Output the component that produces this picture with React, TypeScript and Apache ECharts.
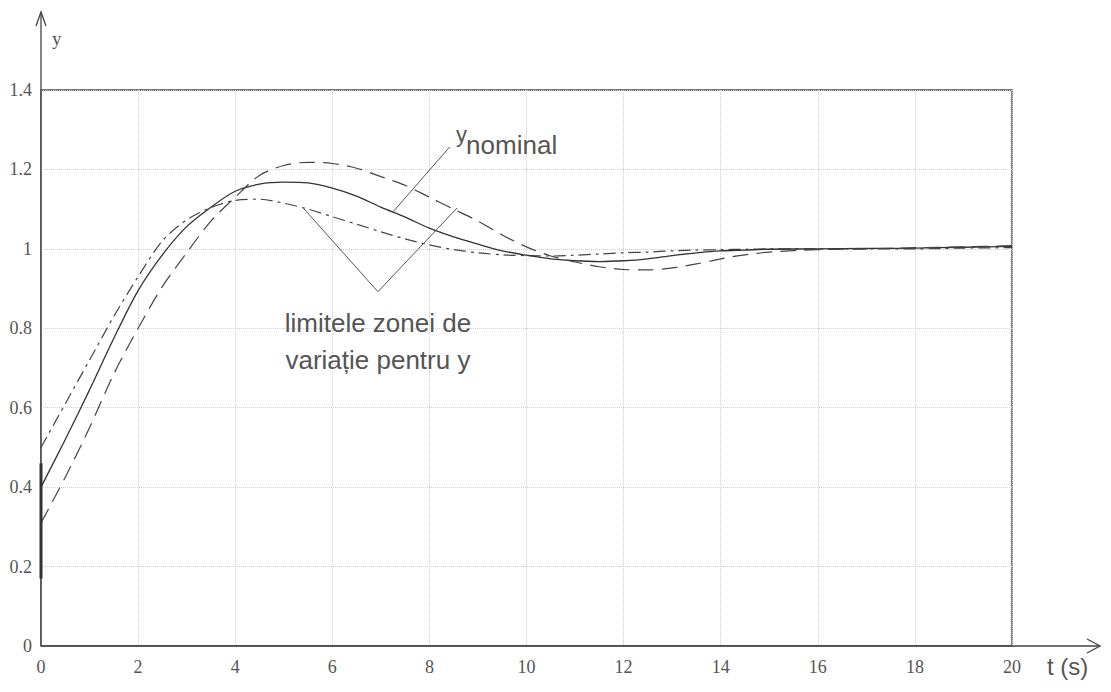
import React, { useEffect, useRef } from "react";
import * as echarts from "echarts";

const T = [0, 0.5, 1, 1.5, 2, 2.5, 3, 3.5, 4, 4.5, 5, 5.5, 6, 6.5, 7, 7.5, 8, 8.5, 9, 9.5, 10, 10.5, 11, 11.5, 12, 12.5, 13, 13.5, 14, 14.5, 15, 16, 17, 18, 19, 20];
const yUpper = [0.5, 0.61, 0.72, 0.83, 0.93, 1.02, 1.073, 1.104, 1.122, 1.125, 1.115, 1.1, 1.081, 1.062, 1.043, 1.025, 1.01, 0.998, 0.99, 0.985, 0.983, 0.982, 0.984, 0.987, 0.99, 0.992, 0.995, 0.997, 0.998, 0.999, 1.0, 1.0, 1.0, 1.0, 1.002, 1.003];
const yNominal = [0.4, 0.52, 0.645, 0.775, 0.895, 0.985, 1.056, 1.105, 1.145, 1.163, 1.168, 1.166, 1.153, 1.133, 1.105, 1.08, 1.052, 1.03, 1.012, 0.995, 0.984, 0.975, 0.97, 0.968, 0.97, 0.975, 0.983, 0.99, 0.995, 0.997, 0.999, 1.0, 1.001, 1.002, 1.004, 1.006];
const yLower = [0.31, 0.425, 0.55, 0.685, 0.8, 0.905, 0.99, 1.07, 1.13, 1.185, 1.21, 1.218, 1.215, 1.203, 1.182, 1.16, 1.13, 1.1, 1.07, 1.035, 1.005, 0.982, 0.967, 0.955, 0.948, 0.947, 0.952, 0.962, 0.975, 0.985, 0.992, 0.998, 1.0, 1.003, 1.005, 1.008];
const initialRange = [[0, 0.17], [0, 0.46]];

// annotation geometry in data coordinates
const nominalLeader = [[7.25, 1.093], [8.42, 1.257]];
const limitsV = [[5.4, 1.103], [6.94, 0.892], [8.57, 1.103]];
const nominalLabelPos = [8.55, 1.3];
const limitsLabelPos = [6.94, 0.86];
const limitsLabel = ["limitele zonei de", "variație pentru y"];

const X_TICKS = { min: 0, max: 20, interval: 2 };
const Y_TICKS = { min: 0, max: 1.4, interval: 0.2 };

const zip = (xs: number[], ys: number[]) => xs.map((x, i) => [x, ys[i]]);

export default function App() {
  const ref = useRef<HTMLDivElement>(null);
  useEffect(() => {
    if (!ref.current) return;
    const chart = echarts.init(ref.current, null, { renderer: "svg" });
    const lineColor = "#444";
    const tickFont = { fontFamily: "Liberation Serif", fontSize: 18, color: "#555" };
    chart.setOption({
      animation: false,
      backgroundColor: "#fff",
      grid: { left: 41, right: 99, top: 90, bottom: 46, show: true, borderColor: "#444", borderWidth: 1.3, backgroundColor: "transparent" },
      xAxis: {
        type: "value", ...X_TICKS,
        axisLine: { show: false },
        axisTick: { show: false },
        axisLabel: { ...tickFont, margin: 12 },
        splitLine: { show: true, lineStyle: { type: "dotted", color: "#cfcfcf", width: 1 } },
      },
      yAxis: {
        type: "value", ...Y_TICKS,
        axisLine: { show: false },
        axisTick: { show: false },
        axisLabel: { ...tickFont, margin: 9 },
        splitLine: { show: true, lineStyle: { type: "dotted", color: "#cfcfcf", width: 1 } },
      },
      series: [
        { name: "upper", type: "line", data: zip(T, yUpper), smooth: 0.3, symbol: "none", lineStyle: { color: lineColor, width: 1.2, type: [12, 5, 3, 5] } },
        { name: "nominal", type: "line", data: zip(T, yNominal), smooth: 0.3, symbol: "none", lineStyle: { color: "#333", width: 1.3, type: "solid" } },
        { name: "lower", type: "line", data: zip(T, yLower), smooth: 0.3, symbol: "none", lineStyle: { color: lineColor, width: 1.2, type: [16, 8] } },
        { name: "initial", type: "line", data: initialRange, symbol: "none", lineStyle: { color: "#333", width: 3 } },
        { name: "leader", type: "line", data: nominalLeader, symbol: "none", lineStyle: { color: "#555", width: 1 } },
        { name: "limits", type: "line", data: limitsV, symbol: "none", lineStyle: { color: "#555", width: 1 } },
      ],
    });
    const p = (x: number, y: number) => chart.convertToPixel({ gridIndex: 0 }, [x, y]) as number[];
    const o = p(0, 0);
    const nl = p(nominalLabelPos[0], nominalLabelPos[1]);
    const ll = p(limitsLabelPos[0], limitsLabelPos[1]);
    const axisStyle = { stroke: "#444", lineWidth: 1.3 };
    chart.setOption({
      graphic: [
        { type: "line", shape: { x1: o[0], y1: o[1], x2: o[0], y2: 12 }, style: axisStyle },
        { type: "line", shape: { x1: o[0], y1: o[1], x2: 1100, y2: o[1] }, style: axisStyle },
        { type: "polyline", shape: { points: [[o[0] - 5, 26], [o[0], 12], [o[0] + 5, 26]] }, style: { ...axisStyle, fill: null } },
        { type: "polyline", shape: { points: [[1087, o[1] - 7], [1100, o[1]], [1087, o[1] + 7]] }, style: { ...axisStyle, fill: null } },
        { type: "text", x: 52, y: 29, style: { text: "y", font: "19px 'Liberation Serif'", fill: "#555" } },
        { type: "text", x: 1047, y: 654, style: { text: "t (s)", font: "24px 'Liberation Sans'", fill: "#555" } },
        { type: "text", x: nl[0], y: nl[1] - 6, style: { text: "y", font: "22px 'Liberation Sans'", fill: "#555" } },
        { type: "text", x: nl[0] + 10, y: nl[1] + 2, style: { text: "nominal", font: "26px 'Liberation Sans'", fill: "#555" } },
        { type: "text", x: ll[0], y: ll[1], style: { text: limitsLabel.join("\n"), font: "26px 'Liberation Sans'", fill: "#555", align: "center", verticalAlign: "top", lineHeight: 37 } },
      ],
    });
    return () => chart.dispose();
  }, []);
  return <div ref={ref} style={{ position: "absolute", left: 0, top: 0, width: 1111, height: 692 }} />;
}
